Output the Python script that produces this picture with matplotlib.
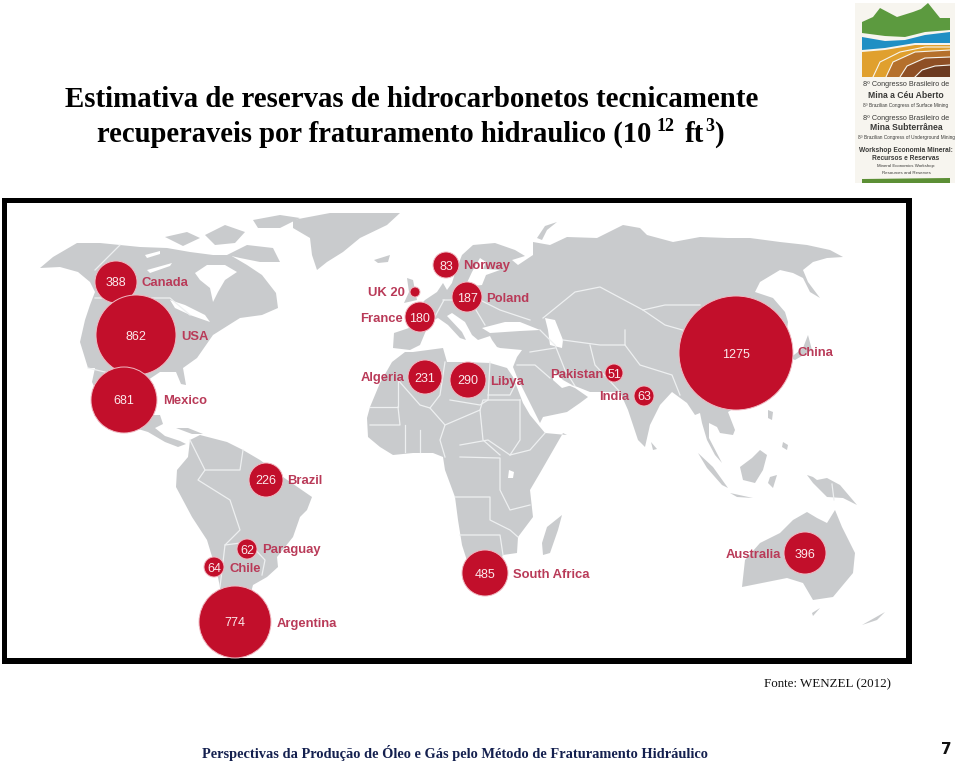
"""World map of technically recoverable shale gas reserves, drawn on a pixel canvas."""

import matplotlib.pyplot as plt
from matplotlib.patches import Circle, Polygon, Rectangle

LAND = "#C9CBCD"
RED = "#C20F2B"
LABEL_RED = "#B93A58"
NAVY = "#14204F"

COUNTRIES = ["Canada", "USA", "Mexico", "UK 20", "France", "Norway", "Poland", "Algeria", "Libya",
             "Pakistan", "India", "China", "Brazil", "Paraguay", "Chile", "Argentina",
             "South Africa", "Australia"]
VALUES = ["388", "862", "681", "", "180", "83", "187", "231", "290",
          "51", "63", "1275", "226", "62", "64", "774", "485", "396"]
BUBBLE_X = [116, 136, 124, 415, 420, 446, 467, 425, 468, 614, 644, 736, 266, 247, 214, 235, 485, 805]
BUBBLE_Y = [282, 335, 400, 292, 317, 265, 297, 377, 380, 373, 396, 353, 480, 549, 567, 622, 573, 553]
BUBBLE_R = [21, 40, 33, 5, 15, 13, 15, 17, 18, 9, 10, 57, 17, 10, 10, 36, 23, 21]
LABEL_X = [141, 181, 163, 368, 360, 463, 486, 361, 490, 550, 599, 797, 287, 262, 230, 277, 513, 726]
LABEL_Y = [282, 335, 400, 292, 317, 265, 297, 377, 381, 373, 396, 352, 480, 549, 567, 622, 573, 553]

NORTH_AMERICA = [(40, 268), (53, 257), (77, 243), (100, 243), (120, 245), (140, 247), (167, 248), (190, 252),
                 (213, 255), (230, 255), (247, 265), (262, 275), (276, 293), (278, 308), (262, 315), (240, 318),
                 (232, 323), (213, 335), (197, 358), (183, 368), (186, 385), (181, 384), (176, 372), (160, 372),
                 (148, 380), (145, 400), (150, 415), (160, 415), (163, 424), (155, 428), (165, 436), (180, 441),
                 (186, 444), (178, 447), (165, 442), (148, 432), (125, 425), (105, 410), (92, 382), (95, 368),
                 (88, 368), (80, 342), (85, 320), (90, 305), (95, 292), (90, 282), (78, 272), (60, 267)]
GREENLAND = [(293, 220), (330, 213), (400, 213), (387, 225), (360, 238), (343, 252), (327, 262), (317, 270),
             (312, 255), (310, 238), (293, 228)]
ARCTIC_1 = [(165, 237), (187, 232), (200, 238), (183, 246)]
ARCTIC_2 = [(227, 255), (247, 245), (273, 248), (280, 262), (260, 262), (240, 258)]
ARCTIC_3 = [(253, 220), (280, 215), (300, 218), (280, 228), (258, 228)]
ARCTIC_4 = [(205, 235), (225, 225), (245, 232), (235, 243), (215, 245)]
CUBA = [(176, 428), (188, 428), (203, 434), (192, 434)]
ICELAND = [(374, 260), (390, 255), (388, 262), (378, 263)]
UK = [(407, 278), (413, 280), (417, 300), (404, 303), (409, 292)]

EURASIA = [(393, 348), (394, 333), (412, 327), (408, 318), (425, 300), (437, 292), (443, 283), (447, 290),
           (452, 283), (456, 270), (462, 255), (473, 245), (495, 243), (515, 250), (525, 256), (512, 260),
           (518, 265), (533, 255), (533, 242), (550, 245), (567, 237), (597, 238), (623, 225), (640, 228),
           (647, 235), (673, 242), (700, 237), (727, 238), (750, 238), (780, 242), (807, 245), (830, 250),
           (843, 257), (827, 258), (813, 262), (803, 270), (808, 282), (820, 298), (810, 292), (803, 278),
           (793, 273), (780, 270), (760, 282), (755, 292), (773, 298), (785, 312), (788, 322), (785, 345),
           (770, 395), (740, 405), (728, 412), (735, 430), (733, 435), (720, 433), (717, 427), (709, 423),
           (709, 438), (722, 463), (715, 455), (707, 440), (702, 423), (700, 413), (695, 415), (687, 403),
           (672, 392), (660, 405), (650, 425), (645, 447), (638, 440), (628, 410), (620, 392), (605, 392),
           (590, 392), (575, 386), (563, 383), (575, 388), (588, 397), (580, 403), (567, 412), (543, 417),
           (540, 423), (530, 403), (517, 377), (513, 367), (517, 357), (522, 350), (500, 348), (497, 347),
           (492, 340), (490, 336), (478, 340), (472, 335), (465, 322), (452, 313), (447, 316), (462, 332),
           (466, 340), (460, 338), (448, 325), (438, 318), (430, 322), (425, 333), (420, 345), (410, 350)]
NOVAYA_ZEMLYA = [(537, 238), (545, 226), (557, 222), (547, 230), (542, 240)]
JAPAN = [(808, 335), (812, 350), (795, 360), (790, 358), (803, 348)]
SRI_LANKA = [(651, 442), (657, 449), (653, 450)]

AFRICA = [(405, 352), (392, 362), (380, 383), (370, 407), (367, 418), (368, 437), (380, 447), (393, 455),
          (413, 453), (433, 453), (443, 457), (445, 470), (455, 497), (458, 520), (462, 545), (470, 570),
          (485, 594), (503, 555), (517, 553), (518, 537), (533, 517), (530, 490), (540, 473), (563, 433),
          (567, 435), (545, 433), (530, 415), (523, 403), (513, 377), (507, 368), (490, 363), (465, 362),
          (447, 362), (443, 348), (413, 352)]
MADAGASCAR = [(562, 515), (558, 530), (550, 553), (543, 555), (542, 543), (547, 527)]

SOUTH_AMERICA = [(200, 435), (227, 442), (243, 450), (260, 460), (283, 477), (312, 497), (307, 510), (300, 517),
                 (293, 537), (277, 557), (278, 567), (267, 577), (253, 585), (245, 615), (222, 615), (220, 587),
                 (217, 573), (207, 540), (192, 517), (176, 487), (177, 470), (188, 457), (190, 440)]

AUSTRALIA = [(742, 587), (745, 560), (760, 543), (780, 533), (793, 520), (807, 512), (817, 518), (827, 523),
             (835, 510), (842, 527), (855, 553), (853, 573), (833, 597), (813, 600), (803, 583), (787, 578),
             (767, 582)]
TASMANIA = [(812, 613), (820, 608), (813, 616)]
NEW_ZEALAND = [(862, 625), (885, 612), (877, 620)]
NEW_GUINEA = [(807, 475), (813, 477), (817, 480), (827, 478), (840, 485), (857, 505), (843, 498), (827, 497),
              (813, 483)]
BORNEO = [(740, 467), (752, 458), (760, 450), (767, 455), (763, 470), (755, 483), (743, 480)]
SUMATRA = [(698, 453), (713, 467), (728, 488), (722, 485), (707, 468)]
JAVA = [(730, 493), (753, 498), (737, 497)]
SULAWESI = [(770, 477), (777, 475), (773, 488), (768, 483)]
PHILIPPINES_1 = [(768, 410), (773, 412), (772, 420), (768, 418)]
PHILIPPINES_2 = [(783, 442), (788, 445), (787, 450), (782, 447)]

ISLANDS = [NORTH_AMERICA, GREENLAND, ARCTIC_1, ARCTIC_2, ARCTIC_3, ARCTIC_4, CUBA, ICELAND, UK, EURASIA,
           NOVAYA_ZEMLYA, JAPAN, SRI_LANKA, AFRICA, MADAGASCAR, SOUTH_AMERICA, AUSTRALIA, TASMANIA,
           NEW_ZEALAND, NEW_GUINEA, BORNEO, SUMATRA, JAVA, SULAWESI, PHILIPPINES_1, PHILIPPINES_2]

# inland water, drawn white over the land
HUDSON_BAY = [(195, 273), (207, 265), (225, 265), (237, 272), (225, 280), (218, 292), (213, 302), (210, 288),
              (200, 280)]
BALTIC = [(465, 287), (472, 272), (480, 258), (486, 262), (483, 269), (500, 270), (486, 275), (482, 285)]
BLACK_SEA = [(482, 328), (505, 322), (520, 322), (540, 330), (520, 331), (490, 333)]
CASPIAN = [(545, 318), (555, 320), (563, 340), (562, 348), (550, 345), (548, 330)]
PERSIAN_GULF = [(553, 370), (563, 380), (572, 385), (562, 388), (553, 380)]
VICTORIA = [(509, 470), (514, 472), (513, 478), (508, 478)]
BEAR_LAKE = [(145, 255), (160, 251), (160, 254), (147, 258)]
SLAVE_LAKE = [(147, 270), (172, 263), (170, 266), (150, 273)]
GREAT_LAKES = [(170, 300), (185, 305), (205, 315), (210, 322), (190, 315), (175, 308)]
WATER = [HUDSON_BAY, BALTIC, BLACK_SEA, CASPIAN, PERSIAN_GULF, VICTORIA, BEAR_LAKE, SLAVE_LAKE, GREAT_LAKES]

BORDERS = [
    [(120, 245), (95, 270)],
    [(95, 298), (170, 298), (190, 315)],
    [(88, 368), (130, 378), (148, 380)],
    [(190, 440), (205, 470), (198, 480), (230, 500), (240, 530), (225, 545), (220, 587)],
    [(243, 450), (240, 470), (205, 470)],
    [(225, 545), (248, 542), (265, 560), (262, 575)],
    [(432, 322), (444, 300)],
    [(443, 300), (480, 300), (500, 310), (530, 320)],
    [(543, 318), (575, 292), (600, 287), (643, 310), (665, 305), (700, 305)],
    [(643, 310), (665, 325), (700, 335)],
    [(540, 330), (555, 345), (565, 370), (575, 386)],
    [(563, 340), (600, 345), (625, 345), (625, 330)],
    [(590, 345), (595, 365), (620, 392)],
    [(625, 345), (640, 365), (672, 375), (680, 395)],
    [(445, 362), (440, 395), (430, 408), (420, 405), (398, 380)],
    [(450, 400), (480, 405), (488, 400), (490, 362)],
    [(488, 395), (510, 395), (515, 385)],
    [(370, 407), (398, 407), (398, 380)],
    [(398, 407), (400, 425), (370, 425)],
    [(430, 408), (445, 425), (440, 440), (445, 457)],
    [(445, 425), (480, 410), (483, 440), (500, 455)],
    [(460, 445), (488, 440), (510, 455), (530, 450), (545, 433)],
    [(460, 457), (500, 458), (500, 490), (510, 510), (530, 505)],
    [(455, 497), (490, 497), (490, 520), (510, 530), (518, 537)],
    [(460, 535), (500, 535), (503, 555)],
    [(480, 410), (483, 400), (520, 400)],
    [(405, 425), (405, 452)],
    [(420, 430), (420, 452)],
    [(520, 400), (520, 440), (510, 455)],
    [(517, 365), (535, 365), (550, 378)],
    [(530, 352), (555, 348)],
    [(470, 300), (485, 325)],
    [(832, 484), (834, 500)],
]

# conference logo at top right
LOGO_GREEN = [(862, 22), (873, 17), (880, 8), (897, 17), (913, 12), (921, 9), (928, 3), (940, 18), (950, 18),
              (950, 30), (925, 32), (905, 37), (885, 36), (862, 33)]
LOGO_BLUE = [(862, 37), (885, 41), (905, 40), (925, 35), (950, 32), (950, 43), (915, 43), (885, 48), (862, 50)]
LOGO_ORANGE = [(862, 52), (885, 50), (915, 45), (950, 45), (950, 77), (862, 77)]
LOGO_BROWN_1 = [(886, 77), (893, 62), (915, 52), (950, 50), (950, 77)]
LOGO_BROWN_2 = [(900, 77), (907, 66), (925, 58), (950, 57), (950, 77)]
LOGO_BROWN_3 = [(915, 77), (922, 70), (935, 66), (950, 65), (950, 77)]
LOGO_BAND = [(862, 179), (950, 178), (950, 183), (862, 183)]
LOGO_ARC_1 = [(873, 77), (880, 62), (900, 52), (925, 47), (950, 47)]
LOGO_ARC_2 = [(886, 77), (893, 62), (915, 52), (950, 50)]
LOGO_ARC_3 = [(900, 77), (907, 66), (925, 58), (950, 57)]
LOGO_ARC_4 = [(915, 77), (922, 70), (935, 66), (950, 65)]

LOGO_TEXT = ["8º Congresso Brasileiro de", "Mina a Céu Aberto", "8º Brazilian Congress of Surface Mining",
             "8º Congresso Brasileiro de", "Mina Subterrânea", "8º Brazilian Congress of Underground Mining",
             "Workshop Economia Mineral:", "Recursos e Reservas", "Mineral Economics Workshop:",
             "Resources and Reserves"]
LOGO_TEXT_Y = [85, 96, 105, 118, 128, 138, 150, 158, 166, 173]
LOGO_TEXT_SIZE = [5.2, 6.2, 3.4, 5.2, 6.2, 3.4, 4.8, 4.8, 3.2, 3.2]
LOGO_TEXT_BOLD = [False, True, False, False, True, False, True, True, False, False]

TITLE_LINE_1 = "Estimativa de reservas de hidrocarbonetos tecnicamente"
TITLE_LINE_2 = "recuperaveis por fraturamento hidraulico (10"
SOURCE = "Fonte: WENZEL (2012)"
FOOTER = "Perspectivas da Produção de Óleo e Gás pelo Método de Fraturamento Hidráulico"
PAGE = "7"


def draw_map(ax):
    ax.add_patch(Rectangle((2, 198), 910, 466, fc="black", ec="none", zorder=1))
    ax.add_patch(Rectangle((7, 203), 899, 455, fc="white", ec="none", zorder=1.1))
    for shape in ISLANDS:
        ax.add_patch(Polygon(shape, closed=True, fc=LAND, ec="none", zorder=2))
    for shape in WATER:
        ax.add_patch(Polygon(shape, closed=True, fc="white", ec="none", zorder=2.1))
    for line in BORDERS:
        xs, ys = zip(*line)
        ax.plot(xs, ys, color="#EEF0F1", lw=0.9, zorder=2.2, solid_joinstyle="round")


def draw_bubbles(ax):
    for name, value, x, y, r, lx, ly in zip(COUNTRIES, VALUES, BUBBLE_X, BUBBLE_Y, BUBBLE_R, LABEL_X, LABEL_Y):
        ax.add_patch(Circle((x, y), r, fc=RED, ec="#F0B9C2", lw=0.7, zorder=3))
        if value:
            ax.text(x, y, value, color="#FBE9EC", fontsize=9, ha="center", va="center_baseline",
                    family="Liberation Sans", zorder=4)
        ax.text(lx, ly, name, color=LABEL_RED, fontsize=9.4, fontweight="bold", ha="left",
                va="center_baseline", family="Liberation Sans", zorder=4)


def draw_logo(ax):
    ax.add_patch(Rectangle((855, 3), 100, 180, fc="#F7F5EF", ec="none", zorder=1))
    parts = [(LOGO_GREEN, "#5C9A3F"), (LOGO_BLUE, "#1F8FC4"), (LOGO_ORANGE, "#E0A02E"),
             (LOGO_BROWN_1, "#B5702C"), (LOGO_BROWN_2, "#8E4F25"), (LOGO_BROWN_3, "#6B3A20"),
             (LOGO_BAND, "#5C8F35")]
    for shape, color in parts:
        ax.add_patch(Polygon(shape, closed=True, fc=color, ec="none", zorder=2))
    for line in [LOGO_ARC_1, LOGO_ARC_2, LOGO_ARC_3, LOGO_ARC_4]:
        xs, ys = zip(*line)
        ax.plot(xs, ys, color="#F7F5EF", lw=0.8, zorder=2.5)
    for text, y, size, bold in zip(LOGO_TEXT, LOGO_TEXT_Y, LOGO_TEXT_SIZE, LOGO_TEXT_BOLD):
        ax.text(906, y, text, fontsize=size, ha="center", va="center", color="#3A3A38",
                fontweight="bold" if bold else "normal", family="Liberation Sans", zorder=3)


def draw_text(ax):
    serif = {"family": "Liberation Serif", "fontweight": "bold", "color": "black"}
    ax.text(65, 107, TITLE_LINE_1, fontsize=20.75, ha="left", va="baseline", **serif)
    ax.text(97, 142, TITLE_LINE_2, fontsize=20.6, ha="left", va="baseline", **serif)
    ax.text(657, 131, "12", fontsize=13, ha="left", va="baseline", **serif)
    ax.text(685, 142, "ft", fontsize=20.75, ha="left", va="baseline", **serif)
    ax.text(705, 131, "3", fontsize=13, ha="left", va="baseline", **serif)
    ax.text(714, 142, ")", fontsize=20.75, ha="left", va="baseline", **serif)
    ax.text(764, 684, SOURCE, fontsize=9.4, ha="left", va="center", family="Liberation Serif", color="#111111")
    ax.text(202, 753, FOOTER, fontsize=10.35, ha="left", va="center", family="Liberation Serif",
            fontweight="bold", color=NAVY)
    ax.text(946, 750, PAGE, fontsize=11, ha="center", va="center", family="DejaVu Sans",
            fontweight="bold", color="#111111")


def main():
    fig = plt.figure(figsize=(9.6, 7.64), dpi=100)
    ax = fig.add_axes([0, 0, 1, 1])
    ax.set_xlim(0, 960)
    ax.set_ylim(764, 0)
    ax.axis("off")
    draw_map(ax)
    draw_bubbles(ax)
    draw_logo(ax)
    draw_text(ax)
    fig.savefig("out.png", dpi=100)


if __name__ == "__main__":
    main()
